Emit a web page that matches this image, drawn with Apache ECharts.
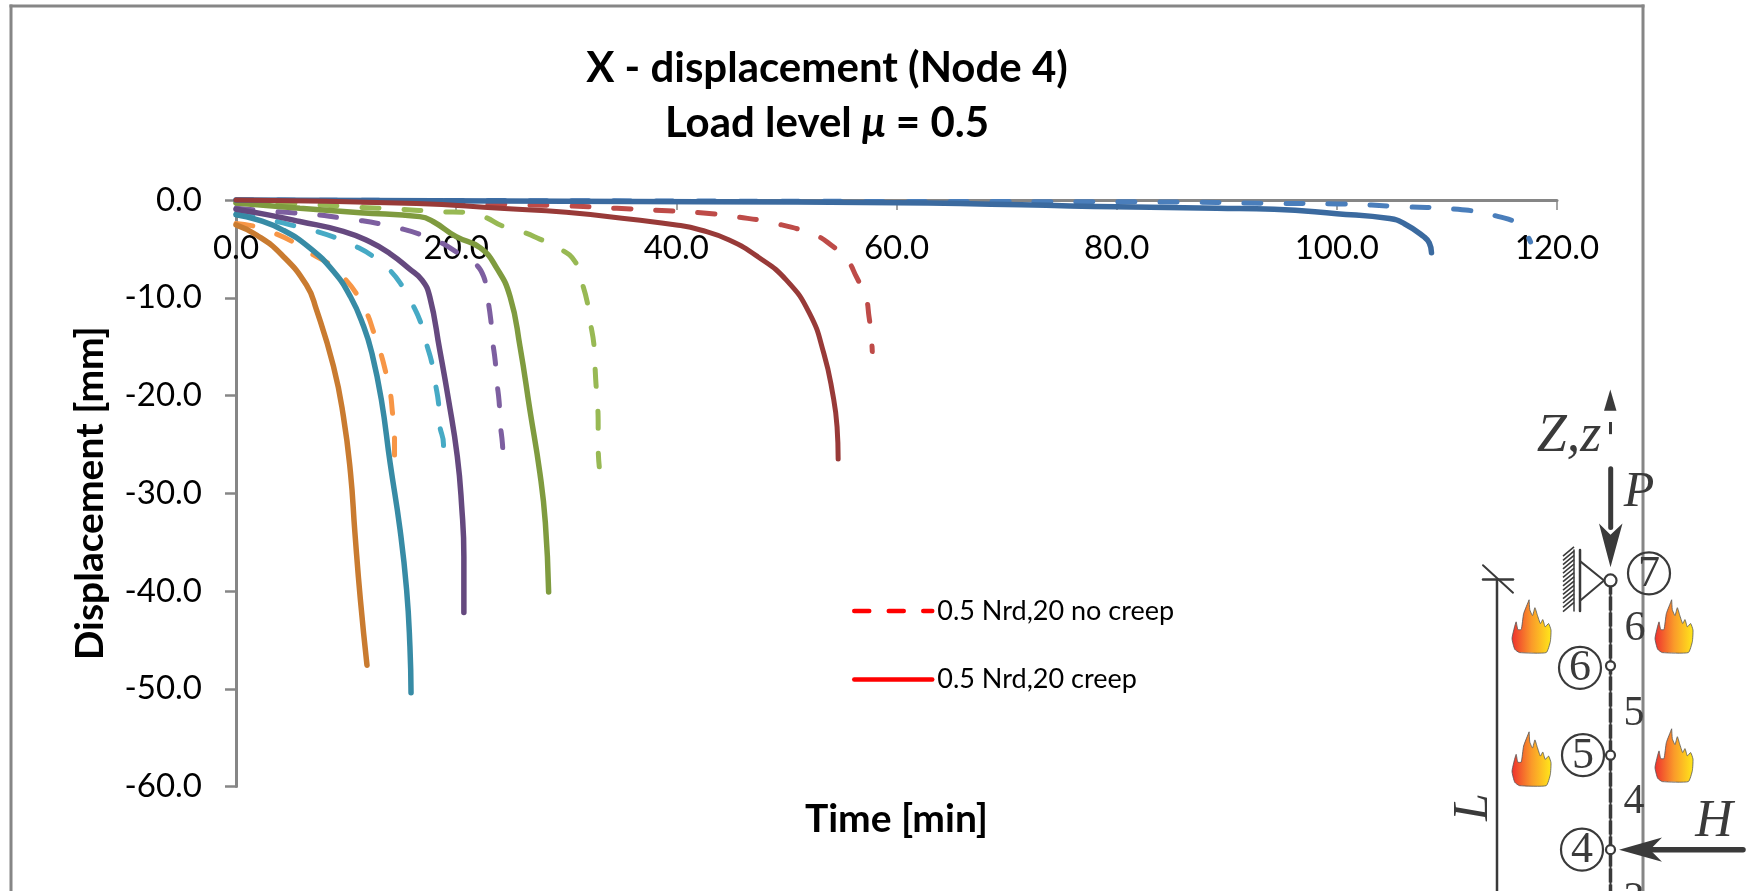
<!DOCTYPE html>
<html><head><meta charset="utf-8">
<style>html,body{margin:0;padding:0;background:#fff;overflow:hidden}#c{width:1757px;height:891px}</style>
<script src="https://cdn.jsdelivr.net/npm/echarts@6/dist/echarts.min.js"></script>
</head><body><div id="c"></div>
<script>
const titleLines = ['X - displacement (Node 4)', 'Load level ', ' = 0.5'];
const xAxisName = 'Time [min]';
const yAxisName = 'Displacement [mm]';
const legendNames = ['0.5 Nrd,20 no creep', '0.5 Nrd,20 creep'];

const orangeSolid = [[0,-2.55],[1.9,-3.6],[4.15,-5.6],[6.4,-8.7],[7.3,-11.2],[8.85,-17],[9.75,-22.1],[10.4,-27.9],[10.8,-34],[11.3,-40.9],[11.9,-47.6]];
const orangeDash = [[0,-2.4],[1.7,-2.7],[3.5,-3.4],[5.2,-4.3],[7,-5.6],[8.4,-6.5],[10,-8.2],[11,-9.7],[11.9,-11.6],[12.5,-13.5],[13.1,-15.5],[13.6,-17.6],[14,-19.6],[14.2,-21.6],[14.4,-23.9],[14.4,-26.1]];
const tealSolid = [[0,-1.5],[1.9,-2],[4.3,-3.1],[6.7,-4.9],[8.85,-7.3],[10.4,-9.9],[11.6,-12.95],[12.35,-15.7],[13.2,-20.4],[14,-26.9],[14.9,-33.7],[15.5,-39.9],[15.8,-45.7],[15.9,-50.4]];
const tealDash = [[0,-1.4],[1.7,-1.7],[3.7,-2.2],[5.5,-2.7],[7.3,-3.2],[9.15,-3.9],[10.8,-4.7],[12.5,-5.8],[13.9,-7.1],[15.1,-8.8],[16,-10.6],[16.8,-12.6],[17.3,-14.7],[17.8,-16.7],[18.1,-18.7],[18.4,-20.8],[18.5,-23],[18.85,-25],[18.85,-27.3]];
const purpleSolid = [[0,-0.95],[2.8,-1.5],[5.8,-2.2],[9.75,-3.2],[12.2,-4.3],[14,-5.5],[15.7,-7],[16.9,-8.2],[17.6,-9.9],[18.5,-15.3],[19.3,-20.4],[20.1,-26.2],[20.5,-31.3],[20.7,-36.5],[20.7,-42.2]];
const purpleDash = [[0,-0.85],[3.7,-1.2],[7.3,-1.5],[9.3,-1.8],[11.3,-2.1],[13.1,-2.45],[14.9,-2.9],[16.7,-3.5],[18.5,-4.3],[20,-5.3],[21.7,-6.5],[22.5,-7.85],[22.85,-10],[23.15,-12.3],[23.3,-14.3],[23.55,-16.5],[23.7,-18.6],[23.9,-20.6],[24,-22.8],[24.2,-24.9],[24.3,-27.2]];
const greenSolid = [[0,-0.3],[5.8,-0.85],[11.3,-1.3],[16.7,-1.7],[17.9,-2.2],[20,-3.75],[22.2,-4.9],[23.7,-7],[24.9,-9.9],[25.8,-15],[26.7,-21.5],[27.6,-27.9],[28.1,-33],[28.4,-40.1]];
const greenDash = [[0,-0.25],[5.8,-0.4],[11.3,-0.75],[14.9,-0.95],[18.7,-1.2],[20.7,-1.25],[22.5,-1.7],[24.2,-2.65],[26,-3.25],[27.6,-4],[29.3,-4.9],[30.8,-6.3],[31.4,-8.35],[31.9,-10.4],[32.2,-12.6],[32.5,-14.65],[32.6,-16.7],[32.7,-18.8],[32.85,-21],[32.9,-23],[32.9,-25.2],[33,-27.3]];
const redSolid = [[0,0],[16.4,-0.35],[24,-0.85],[30,-1.25],[36.1,-2],[40,-2.55],[42.2,-3.07],[44.8,-4.1],[47.4,-5.8],[50,-8.2],[52.1,-11.6],[53.4,-15.7],[54.2,-19.8],[54.6,-23.2],[54.7,-26.5]];
const redDash = [[0,-0.07],[11.9,-0.2],[26.1,-0.5],[30,-0.6],[34.6,-0.85],[39.2,-1.1],[42.2,-1.3],[45.3,-1.7],[49,-2.4],[52.6,-3.6],[54.05,-4.6],[55.5,-6.1],[56.35,-7.85],[57.2,-9.9],[57.5,-11.9],[57.7,-13.8],[57.8,-15.5]];
const blueSolid = [[0,0],[42,-0.17],[60,-0.27],[80,-0.7],[89.1,-0.85],[94.3,-0.95],[100,-1.4],[104.8,-1.9],[106.1,-2.4],[107.9,-3.75],[108.4,-4.4],[108.6,-5.4]];
const blueDash = [[0,0],[60,-0.15],[83.9,-0.2],[94.3,-0.34],[100,-0.4],[106.3,-0.7],[111,-0.95],[114.7,-1.7],[116.5,-2.55],[117.6,-4.3]];

const FONT = 'Lato';
const SERIF = '"Liberation Serif"';
const INK = '#3a3a3a';
const GREY = '#868686';

function sol(data, color, w) {
  return {type:'line', data, symbol:'none', smooth:0.5, smoothMonotone:'none', clip:false, silent:true,
    lineStyle:{color, width:w||5.5, cap:'round', join:'round'}};
}
function dsh(data, color) {
  return {type:'line', data, symbol:'none', smooth:0.5, smoothMonotone:'none', clip:false, silent:true,
    lineStyle:{color, width:5, cap:'round', join:'round', type:[17,25]}};
}
const series = [
  dsh(blueDash,'#4a7ebb'), dsh(redDash,'#be4b48'), dsh(greenDash,'#98b954'),
  dsh(purpleDash,'#7d5fa0'), dsh(tealDash,'#46aac5'), dsh(orangeDash,'#f79646'),
  sol(orangeSolid,'#c97b30'), sol(tealSolid,'#378ba5'), sol(purpleSolid,'#65497f'),
  sol(greenSolid,'#7f9b3f'), sol(blueSolid,'#3b6a9f'), sol(redSolid,'#983a38',5),
  {type:'line', name:legendNames[0], data:[], symbol:'none', itemStyle:{color:'#ff0000'},
    lineStyle:{color:'#ff0000', width:4.5, cap:'round', type:[15,19.5]}},
  {type:'line', name:legendNames[1], data:[], symbol:'none', itemStyle:{color:'#ff0000'},
    lineStyle:{color:'#ff0000', width:4.5, cap:'round'}}
];

// ---- inset schematic of the column (a picture in the source figure) ----
const g = [];
const Y = y => 360 + (y - 360) * 1.0159;
function line(x1,y1,x2,y2,w,extra){ g.push({type:'line', silent:true, shape:{x1,y1:Y(y1),x2,y2:Y(y2)},
  style:Object.assign({stroke:INK, lineWidth:w, lineCap:'round'}, extra||{})}); }
function poly(points){ g.push({type:'polygon', silent:true, shape:{points:points.map(p=>[p[0],Y(p[1])])}, style:{fill:INK}}); }
function txt(x,y,text,size,italic,rot){ g.push({type:'text', silent:true, x, y:Y(y), rotation:rot||0,
  style:{text, fill:INK, font:(italic?'italic ':'')+size+'px '+SERIF, align:'center', verticalAlign:'middle'}}); }
function ring(cx,cy,r,w,fill){ g.push({type:'circle', silent:true, shape:{cx,cy:Y(cy),r},
  style:{fill:fill||'none', stroke:INK, lineWidth:w}}); }
const flameShape = [[88,88],[90,118],[98,136],[105,112],[112,134],[121,160],[128,148],[135,170],[145,160],[152,180],[150,215],[138,248],[60,248],[46,238],[38,205],[50,155],[55,178],[65,178],[72,130],[88,88]];
function flame(x0,y0,x1,y1){
  const pts = flameShape.map(p=>[x0+(p[0]-38)/114*(x1-x0), Y(y0+(p[1]-88)/160*(y1-y0))]);
  g.push({type:'polygon', silent:true, shape:{points:pts, smooth:0.15}, style:{stroke:'#555', lineWidth:0.8,
    fill:new echarts.graphic.LinearGradient(0,0,1,0,[{offset:0,color:'#ee2f2f'},{offset:0.5,color:'#fa9a2a'},{offset:1,color:'#ffe81a'}])}});
}
// frame
function frame(x1,y1,x2,y2){ g.push({type:'line', silent:true, z:-1, shape:{x1,y1,x2,y2}, style:{stroke:GREY, lineWidth:3, lineCap:'square'}}); }
frame(11,6,1643,6); frame(11,6,11,895); frame(1643,6,1643,895);
// column
line(1610.5,577,1610.5,891,2,{lineCap:'butt'});
line(1610.5,577,1610.5,891,3.5,{lineCap:'butt',lineDash:[14,2]});
// Z axis arrow
poly([[1610.3,389],[1604,410],[1616.5,410]]);
line(1610.5,421,1610.5,433,3,{lineCap:'butt'});
txt(1569,436,'Z,z',54,true);
// P
line(1610.7,467,1610.7,525,5);
poly([[1610.5,564],[1599,521],[1610.5,532],[1622.5,521]]);
txt(1639,491,'P',50,true);
// L dimension
line(1497,576,1497,891,2.5,{lineCap:'butt'});
line(1483,576,1513,576,2.5);
line(1483,562,1513,589,2);
txt(1474,800,'L',50,true,Math.PI/2);
// support
for (let y=549;y<=607;y+=4.2) line(1563,y+4,1574,y-5,1.6,{lineCap:'butt'});
line(1574,547,1574,607,1.5);
line(1580,547,1580,607,2.5);
line(1580,558,1604,577,2);
line(1604,577,1580,597,2);
// nodes
ring(1610.5,577,6,2.2,'#fff');
ring(1610.5,661,4.5,2.2,'#fff');
ring(1610.5,749,4.5,2.2,'#fff');
ring(1610.5,842,4.5,2.2,'#fff');
[[1649,570,'7'],[1580,663,'6'],[1583,749,'5'],[1582,842,'4']].forEach(n=>{ ring(n[0],n[1],21,2.2); txt(n[0],n[1]+1,n[2],44,false); });
[[1635,625,'6'],[1634,708,'5'],[1634,795,'4'],[1634,892,'3']].forEach(n=>txt(n[0],n[1],n[2],42,false));
// H
line(1743,842,1650,842,5.5);
poly([[1619,842],[1662,830],[1650,842],[1662,854]]);
txt(1714,815,'H',52,true);
// flames
flame(1512,596,1551,648); flame(1655,596,1693,648); flame(1512,726,1551,779); flame(1655,723,1693,775);

const chart = echarts.init(document.getElementById('c'), null, {renderer:'canvas'});
chart.setOption({
  animation:false,
  backgroundColor:'#fff',
  title:{
    left:827, top:41, textAlign:'center', padding:0,
    text:titleLines[0]+'\n'+titleLines[1]+'{m|μ}'+titleLines[2],
    textStyle:{fontFamily:FONT, fontWeight:'bold', fontSize:42, color:'#000', lineHeight:55,
      rich:{m:{fontFamily:FONT, fontStyle:'italic', fontWeight:'bold', fontSize:42, lineHeight:55}}}
  },
  legend:{
    data:legendNames.map(name=>({name, itemStyle:{opacity:0}})), left:852, top:596.5, orient:'vertical',
    itemWidth:78, itemHeight:36, itemGap:39.7, padding:0,
    lineStyle:{width:4.5},
    textStyle:{fontFamily:FONT, fontSize:27, color:'#000'}
  },
  grid:{left:236, top:200, width:1321, height:586.5, outerBoundsMode:'none'},
  xAxis:{
    type:'value', min:0, max:120, interval:20, position:'top',
    name:xAxisName, nameLocation:'middle', nameGap:-639, nameMoveOverlap:false,
    nameTextStyle:{fontFamily:FONT, fontWeight:'bold', fontSize:39, color:'#000'},
    axisLine:{onZero:false, lineStyle:{color:GREY, width:3}},
    axisTick:{show:true, inside:true, length:10, lineStyle:{color:GREY, width:1.5}},
    axisLabel:{inside:true, fontFamily:FONT, fontSize:33, color:'#000', margin:32, hideOverlap:false, formatter:v=>v.toFixed(1)},
    splitLine:{show:false}
  },
  yAxis:{
    type:'value', min:-60, max:0, interval:10,
    name:yAxisName, nameLocation:'middle', nameGap:126, nameRotate:90, nameMoveOverlap:false,
    nameTextStyle:{fontFamily:FONT, fontWeight:'bold', fontSize:39, color:'#000'},
    axisLine:{onZero:false, show:true, lineStyle:{color:GREY, width:3}},
    axisTick:{show:true, length:11, lineStyle:{color:GREY, width:2.5}},
    axisLabel:{fontFamily:FONT, fontSize:33, color:'#000', margin:34, formatter:v=>v.toFixed(1)},
    splitLine:{show:false}
  },
  series,
  graphic:{elements:g}
});
</script></body></html>
